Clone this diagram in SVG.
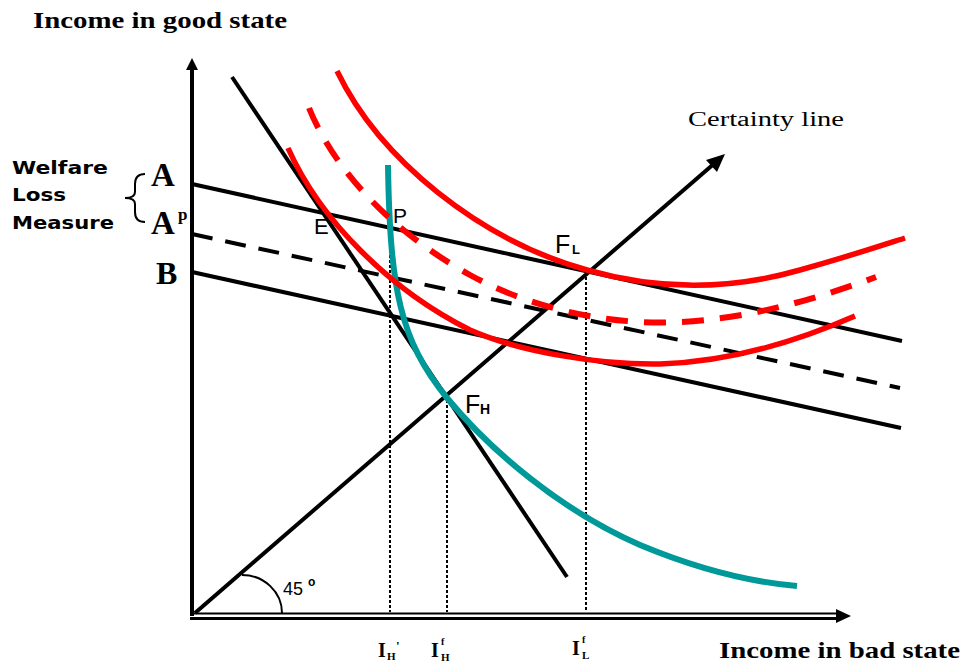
<svg xmlns="http://www.w3.org/2000/svg" width="962" height="664" viewBox="0 0 962 664">
<style>
.ax{stroke:#000;stroke-width:4;fill:none}
.bl{stroke:#000;stroke-width:4;fill:none}
.dash{stroke:#000;stroke-width:4;fill:none;stroke-dasharray:21 13}
.red{stroke:#f00;stroke-width:5.5;fill:none}
.reddash{stroke:#f00;stroke-width:6;fill:none;stroke-dasharray:22 16}
.teal{stroke:#009999;stroke-width:6;fill:none}
.dot{stroke:#000;stroke-width:2;fill:none;stroke-dasharray:3 2}
.bt{font-family:"Liberation Serif",serif;font-weight:bold;fill:#000}
.st{font-family:"Liberation Sans",sans-serif;fill:#000}
.vb{font-family:"DejaVu Sans",sans-serif;font-weight:bold;fill:#000}
</style>
<rect width="962" height="664" fill="#fff"/>
<g id="axes">
<line class="ax" x1="192" y1="616" x2="192" y2="66"/>
<path d="M186,70 L192,58 L198,70 Z" fill="#000"/>
<line x1="190" y1="613.5" x2="840" y2="613.5" stroke="#000" stroke-width="2"/>
<line x1="190" y1="618.5" x2="840" y2="618.5" stroke="#000" stroke-width="3"/>
<path d="M836,609 L851,616 L836,623 Z" fill="#000"/>
</g>
<g id="connectors">
<line class="dot" x1="390" y1="230" x2="390" y2="612"/>
<line class="dot" x1="447" y1="400" x2="447" y2="612"/>
<line class="dot" x1="586" y1="272" x2="586" y2="612"/>
<line class="bl" x1="195" y1="613" x2="716" y2="162"/>
<path d="M706,160 L725,154 L717,172 Z" fill="#000"/>
<line class="bl" x1="232" y1="77" x2="567" y2="577"/>
<line class="bl" x1="192" y1="184" x2="902" y2="341"/>
<line class="dash" x1="192" y1="234" x2="900" y2="388"/>
<line class="bl" x1="192" y1="272" x2="901" y2="428"/>
<path class="teal" d="M388,165 C390,290 400,340 447,398 C490,450 560,510 640,545 C700,570 750,582 797,586"/>
<path class="red" d="M337,71 C380,160 480,240 587,270 C650,288 720,293 800,270 C850,256 880,246 905,238"/>
<path class="reddash" d="M309,108 C330,160 380,225 470,275 C510,297 570,318 640,322 C720,326 800,305 876,277"/>
<path class="red" d="M288,148 C320,220 390,290 470,330 C520,352 600,365 660,364 C730,362 800,340 855,316"/>
<path d="M242,575 A40,38 0 0 1 282,613" fill="none" stroke="#000" stroke-width="2"/>
<path d="M145,174 Q135,174 135,184 L135,192 Q135,198 125,198 Q135,198 135,204 L135,212 Q135,222 145,222" fill="none" stroke="#000" stroke-width="2"/>
</g>
<g id="labels">
<text class="bt" x="33" y="28" font-size="24" textLength="254" lengthAdjust="spacingAndGlyphs">Income in good state</text>
<text class="bt" x="719" y="658" font-size="24" textLength="241" lengthAdjust="spacingAndGlyphs">Income in bad state</text>
<text x="688" y="126" font-family="Liberation Serif, serif" font-size="20" textLength="156" lengthAdjust="spacingAndGlyphs">Certainty line</text>
<text class="vb" x="12" y="174" font-size="17" textLength="96" lengthAdjust="spacingAndGlyphs">Welfare</text>
<text class="vb" x="12" y="201" font-size="17" textLength="54" lengthAdjust="spacingAndGlyphs">Loss</text>
<text class="vb" x="12" y="229" font-size="17" textLength="102" lengthAdjust="spacingAndGlyphs">Measure</text>
<text class="bt" x="151" y="186" font-size="33">A</text>
<text class="bt" x="151" y="234" font-size="33">A</text>
<text class="bt" x="178" y="220" font-size="17">p</text>
<text class="bt" x="156" y="284" font-size="32">B</text>
<text class="st" x="314" y="234" font-size="22">E</text>
<text class="st" x="393" y="223" font-size="21">P</text>
<text class="st" x="555" y="253" font-size="25">F</text>
<text class="st" x="572" y="254" font-size="13" font-weight="bold">L</text>
<text class="st" x="465" y="413" font-size="25">F</text>
<text class="st" x="480" y="414" font-size="14" font-weight="bold">H</text>
<text class="st" x="283" y="595" font-size="18">45</text>
<text class="st" x="308" y="586" font-size="12" font-weight="bold">o</text>
<text class="bt" x="378" y="657" font-size="20">I</text>
<text class="bt" x="387" y="660" font-size="11">H</text>
<text class="bt" x="396" y="650" font-size="13">'</text>
<text class="bt" x="431" y="657" font-size="20">I</text>
<text class="bt" x="441" y="645" font-size="10">f</text>
<text class="bt" x="441" y="661" font-size="11">H</text>
<text class="bt" x="572" y="655" font-size="20">I</text>
<text class="bt" x="582" y="643" font-size="10">f</text>
<text class="bt" x="582" y="659" font-size="11">L</text>
</g>
</svg>
